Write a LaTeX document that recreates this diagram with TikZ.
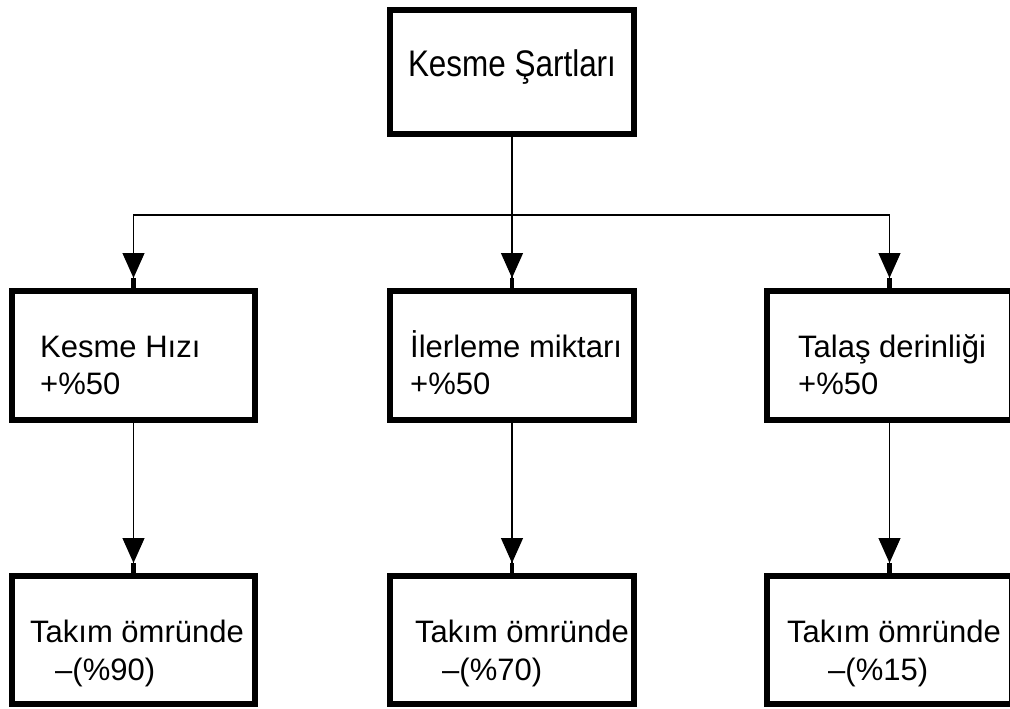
\documentclass[tikz,border=0pt]{standalone}
\usepackage{fontspec}
\setmainfont{Liberation Sans}
\newfontfamily\topfont[FakeStretch=0.85]{Liberation Sans}
\usetikzlibrary{arrows.meta}
\begin{document}
\begin{tikzpicture}[x=1pt,y=-1pt,
  box/.style={draw=black,line width=6pt,fill=white,inner sep=0pt},
  lbl/.style={anchor=base west,inner sep=0pt,font=\fontsize{31}{37}\selectfont},
  conn/.style={line width=1.2pt},
  arr/.style={conn,-{Triangle[width=22pt,length=25pt]Rectangle[length=10pt,width=4.5pt]}}
]
\useasboundingbox[fill=white] (0,0) rectangle (1010,709);
% boxes
\node[box,minimum width=244pt,minimum height=124pt] (top) at (512,72) {};
\node[box,minimum width=243pt,minimum height=129pt] (m1) at (133.5,355.5) {};
\node[box,minimum width=244pt,minimum height=129pt] (m2) at (512,355.5) {};
\node[box,minimum width=245pt,minimum height=129pt] (m3) at (889.5,355.5) {};
\node[box,minimum width=243pt,minimum height=128pt] (b1) at (133.5,640) {};
\node[box,minimum width=244pt,minimum height=128pt] (b2) at (512,640) {};
\node[box,minimum width=245pt,minimum height=128pt] (b3) at (889.5,640) {};
% texts
\node[anchor=base,inner sep=0pt,font=\topfont\fontsize{37}{44}\selectfont] (ttop) at (512,77) {Kesme Şartları};
\node[lbl] (t1a) at (40,357) {Kesme Hızı};
\node[lbl] (t1b) at (40,394) {+\%50};
\node[lbl] (t2a) at (410,357) {İlerleme miktarı};
\node[lbl] (t2b) at (410,394) {+\%50};
\node[lbl] (t3a) at (798,357) {Talaş derinliği};
\node[lbl] (t3b) at (798,394) {+\%50};
\node[lbl] (u1a) at (30,642) {Takım ömründe};
\node[lbl] (u1b) at (55,680) {–(\%90)};
\node[lbl] (u2a) at (415,642) {Takım ömründe};
\node[lbl] (u2b) at (442,680) {–(\%70)};
\node[lbl] (u3a) at (787,642) {Takım ömründe};
\node[lbl] (u3b) at (828,680) {–(\%15)};
% connectors
\coordinate (j) at (512,215);
\draw[conn] (top.south) -- (j);
\draw[arr] (j) -| (m1.north);
\draw[arr] (j) -- (m2.north);
\draw[arr] (j) -| (m3.north);
\draw[arr] (m1.south) -- (b1.north);
\draw[arr] (m2.south) -- (b2.north);
\draw[arr] (m3.south) -- (b3.north);
\end{tikzpicture}
\end{document}
